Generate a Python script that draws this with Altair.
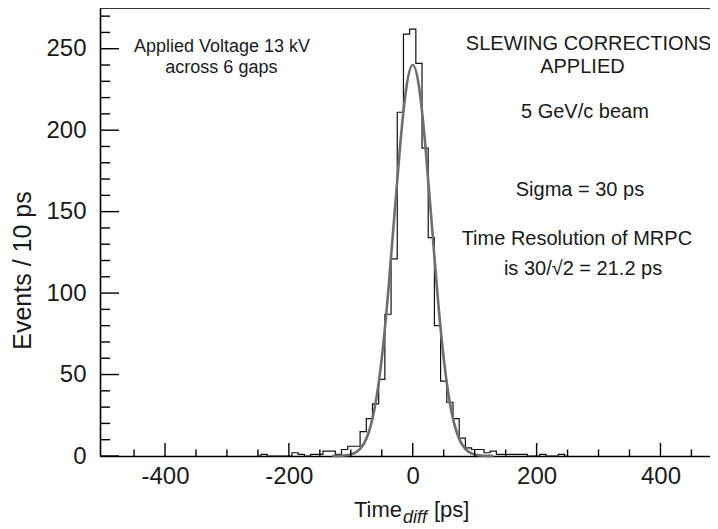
import altair as alt
import pandas as pd

# ---- histogram (10 ps bins, centers) ----
bin_centers = list(range(-250, 260, 10))
counts = [0, 1, 0, 0, 0, 0, 2, 1, 0, 1,
          1, 3, 3, 1, 4, 6, 6, 15, 23, 32,
          47, 87, 121, 211, 259, 262, 241, 189, 134, 80,
          46, 33, 23, 11, 5, 4, 4, 2, 3, 1,
          1, 1, 1, 1, 0, 0, 1, 0, 0, 1,
          0]

# ---- gaussian fit curve ----
fit_x = [-130, -120, -110, -100, -90, -80, -70, -60, -50, -40, -30, -20, -10, 0,
         10, 20, 30, 40, 50, 60, 70, 80, 90, 100, 110, 120, 130]
fit_y = [0.0, 0.1, 0.3, 0.9, 2.7, 6.9, 15.8, 32.5, 60, 99, 146, 192, 227, 240,
         227, 192, 146, 99, 60, 32.5, 15.8, 6.9, 2.7, 0.9, 0.3, 0.1, 0.0]

# ---- axis ticks ----
x_major = [-400, -200, 0, 200, 400]
x_minor = [-450, -350, -300, -250, -150, -100, -50, 50, 100, 150, 250, 300, 350, 450]
y_major = [0, 50, 100, 150, 200, 250]
y_minor = [10, 20, 30, 40, 60, 70, 80, 90, 110, 120, 130, 140, 160, 170, 180, 190,
           210, 220, 230, 240, 260, 270]

# ---- annotations ----
left_text = ["Applied Voltage 13 kV", "across 6 gaps"]
left_x = [-308, -309]
left_y = [251, 238]
right_text = ["SLEWING CORRECTIONS", "APPLIED", "5 GeV/c beam",
              "Sigma = 30 ps", "Time Resolution of MRPC", "is 30/\u221a2 = 21.2 ps"]
right_x = [284, 274, 278, 270, 265, 275]
right_y = [253, 239, 211, 163, 133, 115]

W, H = 610, 448
XDOM = [-505, 480]
YDOM = [0, 275]
FONT = "Liberation Sans"
INK = "#1a1a1a"

xs = alt.Scale(domain=XDOM, nice=False, zero=False)
ys = alt.Scale(domain=YDOM, nice=False)

hist_df = pd.DataFrame({"t": bin_centers, "n": counts})
fit_df = pd.DataFrame({"t": fit_x, "n": fit_y})

hist = alt.Chart(hist_df).mark_line(interpolate="step", color="#111111", strokeWidth=1.2).encode(
    x=alt.X("t:Q", scale=xs,
            axis=alt.Axis(values=x_major, ticks=False, grid=False, title=None,
                          labelExpr="'' + datum.value",
                          labelFontSize=24, labelFont=FONT, labelColor=INK,
                          labelPadding=8, domainColor="black", domainWidth=1.6)),
    y=alt.Y("n:Q", scale=ys,
            axis=alt.Axis(values=y_major, ticks=False, grid=False,
                          title="Events / 10 ps", titleFontSize=25, titleFont=FONT,
                          titleFontWeight="normal", titleColor=INK,
                          titleX=-78, titleY=262, titleAngle=270,
                          titleAlign="center", titleBaseline="middle",
                          labelFontSize=24, labelFont=FONT, labelColor=INK,
                          labelPadding=14, domainColor="black", domainWidth=1.6)),
)

fit = alt.Chart(fit_df).mark_line(interpolate="natural", color="#6e6e6e", strokeWidth=2.6).encode(
    x=alt.X("t:Q", scale=xs), y=alt.Y("n:Q", scale=ys))

xmaj = alt.Chart(pd.DataFrame({"t": x_major})).mark_rule(color="black", strokeWidth=1.4).encode(
    x=alt.X("t:Q", scale=xs), y=alt.value(H), y2=alt.value(H - 13))
xmin = alt.Chart(pd.DataFrame({"t": x_minor})).mark_rule(color="black", strokeWidth=1.4).encode(
    x=alt.X("t:Q", scale=xs), y=alt.value(H), y2=alt.value(H - 6.5))
ymaj = alt.Chart(pd.DataFrame({"n": y_major})).mark_rule(color="black", strokeWidth=1.4).encode(
    y=alt.Y("n:Q", scale=ys), x=alt.value(0), x2=alt.value(19))
ymin = alt.Chart(pd.DataFrame({"n": y_minor})).mark_rule(color="black", strokeWidth=1.4).encode(
    y=alt.Y("n:Q", scale=ys), x=alt.value(0), x2=alt.value(10))

frame_top = alt.Chart(pd.DataFrame({"k": [0]})).mark_rule(color="black", strokeWidth=1.6).encode(
    x=alt.value(0), x2=alt.value(W), y=alt.value(0))

ann_left = alt.Chart(pd.DataFrame({"x": left_x, "y": left_y, "s": left_text})).mark_text(
    font=FONT, fontSize=18, color=INK, align="center", baseline="middle").encode(
    x=alt.X("x:Q", scale=xs), y=alt.Y("y:Q", scale=ys), text="s:N")
ann_right = alt.Chart(pd.DataFrame({"x": right_x, "y": right_y, "s": right_text})).mark_text(
    font=FONT, fontSize=20, color=INK, align="center", baseline="middle").encode(
    x=alt.X("x:Q", scale=xs), y=alt.Y("y:Q", scale=ys), text="s:N")

# x title with subscript
t_main = alt.Chart(pd.DataFrame({"s": ["Time"]})).mark_text(
    font=FONT, fontSize=22, color=INK, align="right", baseline="alphabetic").encode(
    x=alt.value(302), y=alt.value(509), text="s:N")
t_sub = alt.Chart(pd.DataFrame({"s": ["diff"]})).mark_text(
    font=FONT, fontSize=18, fontStyle="italic", color=INK, align="left", baseline="alphabetic").encode(
    x=alt.value(303), y=alt.value(515), text="s:N")
t_unit = alt.Chart(pd.DataFrame({"s": ["[ps]"]})).mark_text(
    font=FONT, fontSize=22, color=INK, align="left", baseline="alphabetic").encode(
    x=alt.value(334), y=alt.value(509), text="s:N")

chart = alt.layer(hist, fit, xmaj, xmin, ymaj, ymin, frame_top,
                  ann_left, ann_right, t_main, t_sub, t_unit).properties(
    width=W, height=H,
    autosize=alt.AutoSizeParams(type="none"),
    padding={"left": 92, "top": 0, "right": 0, "bottom": 72},
).configure_view(stroke=None).configure(background="white")

chart.save("out.html", embed_options={"renderer": "svg", "actions": False})
